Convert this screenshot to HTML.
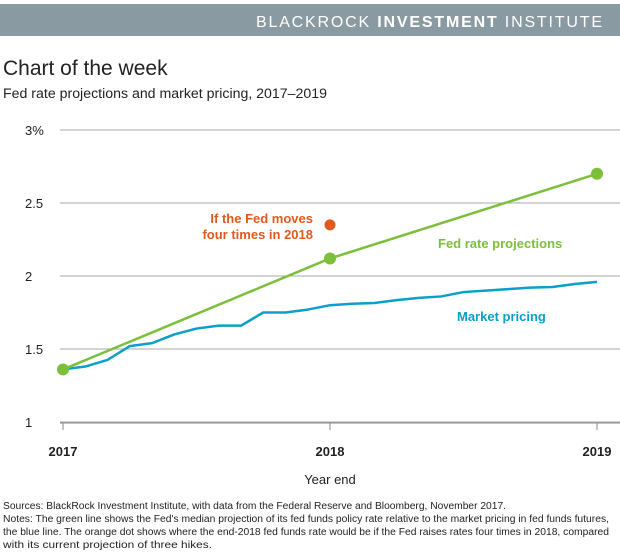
<!DOCTYPE html>
<html><head><meta charset="utf-8"><style>
body{margin:0;width:620px;height:550px;background:#fff;font-family:"Liberation Sans",sans-serif;overflow:hidden}
</style></head><body>
<svg width="620" height="550" xmlns="http://www.w3.org/2000/svg">
<rect x="0" y="4" width="620" height="32" fill="#8a9aa2"/>
<text x="256" y="27" font-size="16" fill="#fff" textLength="346" lengthAdjust="spacing">BLACKROCK <tspan font-weight="bold">INVESTMENT</tspan> INSTITUTE</text>
<text x="3" y="75" font-size="21" fill="#222">Chart of the week</text>
<text x="3" y="98" font-size="13.5" fill="#222" textLength="324" lengthAdjust="spacingAndGlyphs">Fed rate projections and market pricing, 2017–2019</text>
<g id="grid"></g>
<g id="marks"></g>
<text x="313" y="223" text-anchor="end" font-size="13" font-weight="bold" fill="#e05a1e"><tspan x="313">If the Fed moves</tspan><tspan x="313" dy="16">four times in 2018</tspan></text>
<text x="438" y="248" font-size="13" font-weight="bold" fill="#7cbf3a">Fed rate projections</text>
<text x="457" y="321" font-size="13" font-weight="bold" fill="#0aa0c8">Market pricing</text>
<text x="330" y="484" text-anchor="middle" font-size="13" fill="#222">Year end</text>
<g font-size="10" fill="#222">
<text x="3" y="509" textLength="503" lengthAdjust="spacingAndGlyphs">Sources: BlackRock Investment Institute, with data from the Federal Reserve and Bloomberg, November 2017.</text>
<text x="3" y="522" textLength="606" lengthAdjust="spacingAndGlyphs">Notes: The green line shows the Fed's median projection of its fed funds policy rate relative to the market pricing in fed funds futures,</text>
<text x="3" y="535" textLength="606" lengthAdjust="spacingAndGlyphs">the blue line. The orange dot shows where the end-2018 fed funds rate would be if the Fed raises rates four times in 2018, compared</text>
<text x="3" y="548" textLength="209" lengthAdjust="spacingAndGlyphs">with its current projection of three hikes.</text>
</g>
</svg>
<script>
const yTicks=[1,1.5,2,2.5,3];
const yTickLabels=["1","1.5","2","2.5","3%"];
const xYears=[2017,2018,2019];
const marketValues=[1.36,1.38,1.425,1.52,1.54,1.6,1.64,1.66,1.66,1.75,1.75,1.77,1.8,1.81,1.815,1.835,1.85,1.86,1.89,1.9,1.91,1.92,1.925,1.945,1.96];
const fedYears=[2017,2018,2019];
const fedValues=[1.36,2.12,2.7];
const scenarioYear=[2018];
const scenarioValue=[2.35];
const NS="http://www.w3.org/2000/svg";
const X=y=>63+(y-2017)*267;
const Y=v=>422-(v-1)*146;
function mk(t,a,p){const e=document.createElementNS(NS,t);for(const k in a)e.setAttribute(k,a[k]);p.appendChild(e);return e;}
const grid=document.getElementById('grid'),marks=document.getElementById('marks');
yTicks.forEach((v,i)=>{
 const l=mk('line',{x1:60,x2:620,y1:Y(v),y2:Y(v),stroke:'#aaa','stroke-width':1},grid);
 
 
 const t=mk('text',{x:25,y:Y(v)+5,'font-size':13,fill:'#222'},grid);t.textContent=yTickLabels[i];
 
 
});
const ax=mk('line',{x1:60,x2:620,y1:Y(1)+1,y2:Y(1)+1,stroke:'#888'},grid);


xYears.forEach(y=>{
 const tk=mk('line',{x1:X(y),x2:X(y),y1:Y(1)+1,y2:Y(1)+8,stroke:'#888'},grid);
 
 
 const t=mk('text',{x:X(y),y:456,'text-anchor':'middle','font-size':13,'font-weight':'bold',fill:'#222'},grid);t.textContent=y;
 
 
});
const mp=mk('polyline',{points:marketValues.map((v,i)=>X(2017+i/12)+','+Y(v)).join(' '),fill:'none',stroke:'#0aa0c8','stroke-width':2.5,'stroke-linejoin':'round'},marks);


const fp=mk('polyline',{points:fedValues.map((v,i)=>X(fedYears[i])+','+Y(v)).join(' '),fill:'none',stroke:'#7cbf3a','stroke-width':2.5},marks);


fedValues.forEach((v,i)=>{
 const c=mk('circle',{cx:X(fedYears[i]),cy:Y(v),r:6,fill:'#7cbf3a'},marks);
 
 
});
scenarioValue.forEach((v,i)=>{
 const c=mk('circle',{cx:X(scenarioYear[i]),cy:Y(v),r:5.5,fill:'#e05a1e'},marks);
 
 
});
</script>
</body></html>
